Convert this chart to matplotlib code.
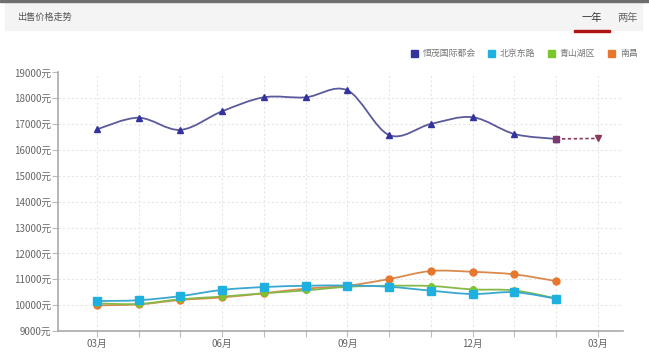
import numpy as np
import matplotlib
matplotlib.use("Agg")
import matplotlib.pyplot as plt
from matplotlib.path import Path
from matplotlib.patches import PathPatch, Rectangle

plt.rcParams['font.family'] = ['Noto Sans CJK SC', 'DejaVu Sans']

# ── data ──────────────────────────────────────────────────────────────────────
months = list(range(13))
tick_pos = [0, 3, 6, 9, 12]
tick_labels = ["03月", "06月", "09月", "12月", "03月"]
names = ["恒茂国际都会", "北京东路", "青山湖区", "南昌"]

hengmao = [16800, 17250, 16780, 17500, 18040, 18040, 18310,
           16580, 17010, 17270, 16620, 16430]
hengmao_forecast = [16430, 16450]          # idx 11 -> idx 12, dashed
beijing_rd = [10160, 10190, 10350, 10590, 10700, 10750, 10760,
              10710, 10560, 10430, 10500, 10250]
qingshanhu = [10070, 10045, 10230, 10330, 10460, 10570, 10710,
              10750, 10740, 10610, 10570, 10260]
nanchang = [9990, 10030, 10200, 10300, 10460, 10640, 10750,
            11010, 11320, 11290, 11190, 10930]

colors = ["#33339f", "#1eb1e0", "#7cc52c", "#e8772e"]
line_colors = ["#5a5a9c", "#3aa7cf", "#86b94a", "#d98a4e"]

W, H = 649, 359


def smooth_path(xs, ys):
    """Catmull-Rom style bezier path through the points."""
    p = np.column_stack([xs, ys]).astype(float)
    n = len(p)
    verts = [p[0]]
    codes = [Path.MOVETO]
    for i in range(n - 1):
        p0 = p[i - 1] if i > 0 else p[i]
        p3 = p[i + 2] if i + 2 < n else p[i + 1]
        c1 = p[i] + (p[i + 1] - p0) / 6.0
        c2 = p[i + 1] - (p3 - p[i]) / 6.0
        verts += [c1, c2, p[i + 1]]
        codes += [Path.CURVE4] * 3
    return Path(verts, codes)


fig = plt.figure(figsize=(W / 100, H / 100), dpi=100)

# header band
fig.patches.append(Rectangle((5 / W, 1 - 30 / H), 637 / W, 27 / H,
                             transform=fig.transFigure, color="#f4f4f4", zorder=0))
fig.patches.append(Rectangle((0, 1 - 2 / H), 1, 2 / H,
                             transform=fig.transFigure, color="#6e6e6e", zorder=0))
fig.text(17 / W, 1 - 17 / H, "出售价格走势", fontsize=6.6, color="#555555",
         va="center", ha="left")
fig.text(592 / W, 1 - 18 / H, "一年", fontsize=7.4, color="#333333",
         va="center", ha="center")
fig.text(628 / W, 1 - 18 / H, "两年", fontsize=7.4, color="#666666",
         va="center", ha="center")
fig.patches.append(Rectangle((574 / W, 1 - 32 / H), 36 / W, 2 / H,
                             transform=fig.transFigure, color="#b01515", zorder=1))

# legend
for name, c, sx in zip(names, colors, [411, 488, 548, 608]):
    fig.patches.append(Rectangle((sx / W, 1 - 57 / H), 7 / W, 7 / H,
                                 transform=fig.transFigure, color=c))
    fig.text((sx + 12) / W, 1 - 53.5 / H, name, fontsize=6.4, color="#777777",
             va="center", ha="left")

# ── chart ─────────────────────────────────────────────────────────────────────
ax = fig.add_axes([58 / W, 1 - 331 / H, (623 - 58) / W, (331 - 72.5) / H])
ax.set_xlim(-0.93, 12.6)
ax.set_ylim(9000, 19000)

yt = list(range(9000, 19001, 1000))
ax.set_yticks(yt)
ax.set_yticklabels([f"{v}元" for v in yt])
ax.set_xticks(months)
ax.set_xticklabels([tick_labels[tick_pos.index(m)] if m in tick_pos else ""
                    for m in months])
ax.tick_params(axis="both", labelsize=7, colors="#bbbbbb", labelcolor="#666666",
               length=4, width=0.8)
ax.tick_params(axis="y", pad=1)
ax.tick_params(axis="x", pad=2)
ax.grid(True, color="#e6e6e6", linestyle=(0, (2, 2)), linewidth=0.8)
for s in ["top", "right"]:
    ax.spines[s].set_visible(False)
for s in ["left", "bottom"]:
    ax.spines[s].set_color("#aaaaaa")
    ax.spines[s].set_linewidth(1.2)

x11 = months[:12]
series = [hengmao, beijing_rd, qingshanhu, nanchang]
markers = ["^", "s", "o", "o"]
msizes = [5, 5.5, 4, 5]
order = [3, 2, 1, 0]
for i in [2, 3, 1, 0]:
    ys = series[i]
    ax.add_patch(PathPatch(smooth_path(x11, ys), fill=False,
                           edgecolor=line_colors[i], linewidth=1.3, zorder=3 + order[i]))
    ax.plot(x11, ys, linestyle="none", marker=markers[i], ms=msizes[i],
            color=colors[i], zorder=4 + order[i])

# forecast segment for 恒茂国际都会
ax.plot(months[11:13], hengmao_forecast, linestyle=(0, (2, 1.5)), color="#8a3a5c",
        linewidth=1.2, zorder=8)
ax.plot(months[11:12], hengmao_forecast[:1], marker="s", ms=4.5, color="#7a3a70",
        linestyle="none", zorder=9)
ax.plot(months[12:13], hengmao_forecast[1:], marker="v", ms=4.5, color="#8a3a5c",
        linestyle="none", zorder=9)

fig.savefig("out.png", dpi=100)
